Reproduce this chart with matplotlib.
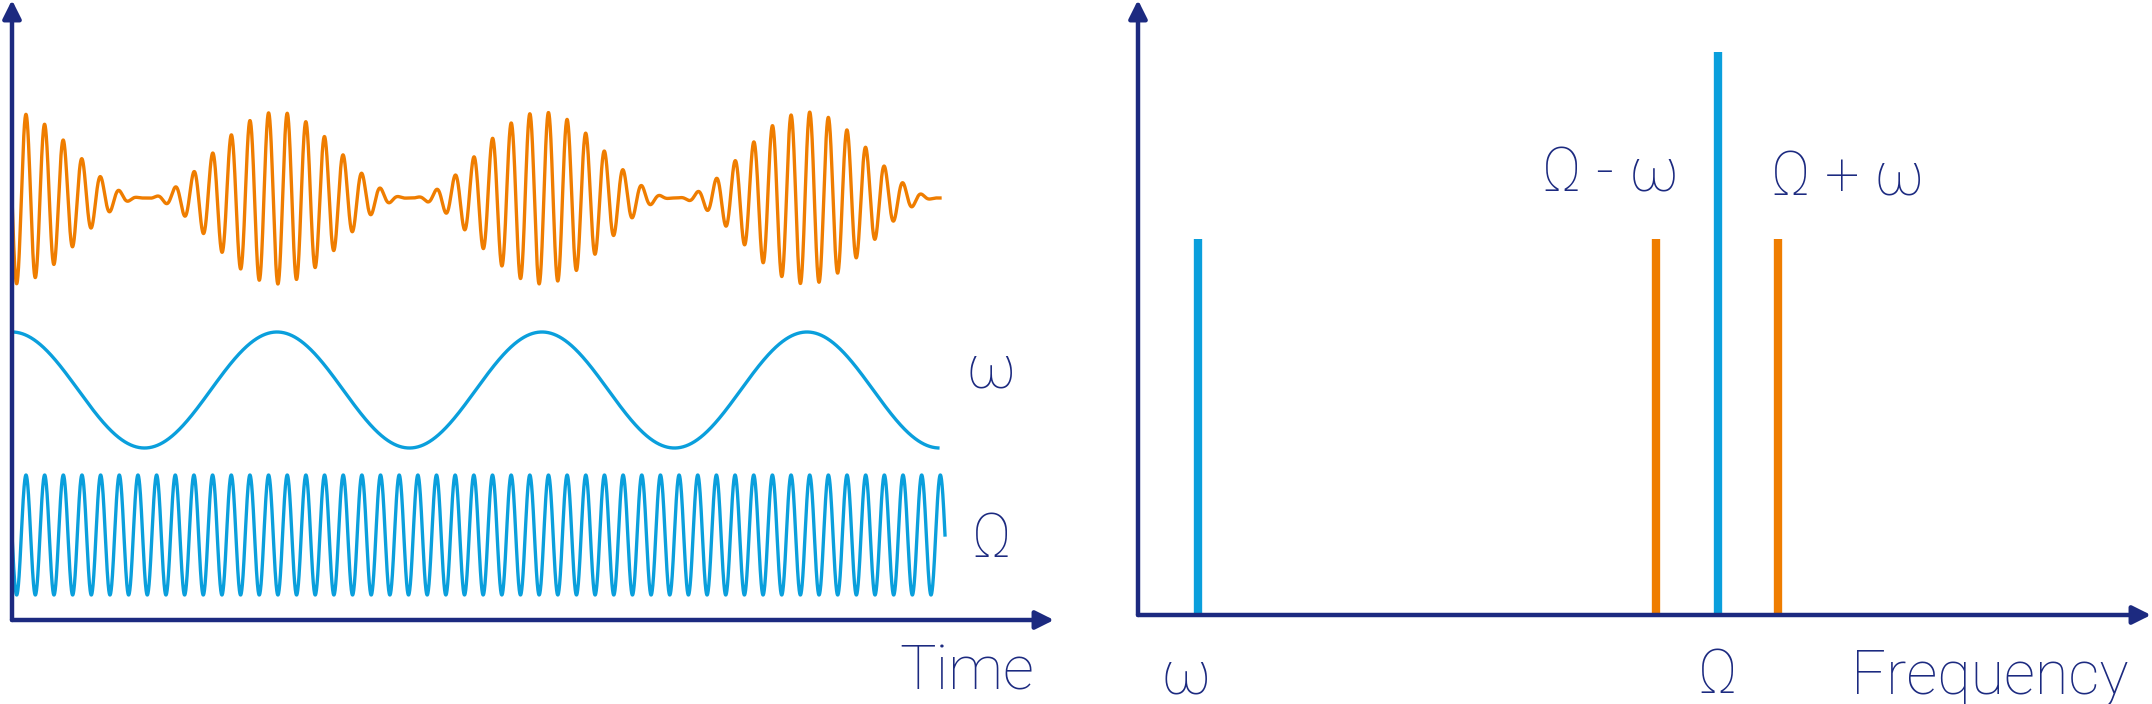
import numpy as np
import matplotlib
matplotlib.use("Agg")
import matplotlib.pyplot as plt

NAVY = "#1c2a80"; ORANGE = "#ef7d00"; BLUE = "#0a9fdc"

# spectrum lines: x position (px), top (px), colour
spec_x = [1198, 1656, 1718, 1778]
spec_top = [239, 239, 52, 239]
spec_col = [BLUE, ORANGE, BLUE, ORANGE]

carrier_cycles = 50.0
mod_period_px = 265.0

fig = plt.figure(figsize=(21.52, 7.04), dpi=100)
ax = fig.add_axes([0, 0, 1, 1])
ax.set_xlim(0, 2152); ax.set_ylim(704, 0); ax.axis("off")

x = np.linspace(12, 945, 8000)
t = (x - 12) / (945 - 12)
car = -np.sin(2*np.pi*carrier_cycles*t)
mod = np.cos(2*np.pi*(x - 12)/mod_period_px)
ax.plot(x, 535 - 60*car, color=BLUE, lw=2.4)
xm = x[x <= 938]
ax.plot(xm, 390 - 58*np.cos(2*np.pi*(xm - 12)/mod_period_px), color=BLUE, lw=2.4)
xo = x[x <= 940]
env = (1 + np.cos(2*np.pi*(xo - 12)/mod_period_px))/2
caro = -np.sin(2*np.pi*carrier_cycles*(xo - 12)/(945 - 12))
ax.plot(xo, 198 - 86*env*caro, color=ORANGE, lw=2.4)

def arrow(x0, y0, x1, y1):
    ax.annotate("", xy=(x1, y1), xytext=(x0, y0),
                arrowprops=dict(arrowstyle="-|>,head_length=1.1,head_width=0.55",
                                color=NAVY, lw=3.2, shrinkA=0, shrinkB=0))
arrow(12, 620, 12, 0); arrow(12, 620, 1054, 620)
arrow(1138, 615, 1138, 0); arrow(1138, 615, 2151, 615)

for xs, top, c in zip(spec_x, spec_top, spec_col):
    ax.plot([xs, xs], [615, top], color=c, lw=6, solid_capstyle="butt")

fam = ["Roboto", "DejaVu Sans"]
kw = dict(color=NAVY, family=fam, fontweight="light", va="center", ha="center")
ax.text(991, 370, "ω", fontsize=44, **kw)
ax.text(991, 540, "Ω", fontsize=44, **kw)
ax.text(967, 672, "Time", fontsize=44, **kw)
ax.text(1186, 676, "ω", fontsize=44, **kw)
ax.text(1717, 676, "Ω", fontsize=44, **kw)
ax.text(1990, 677, "Frequency", fontsize=44, **kw)
ax.text(1611, 175, "Ω - ω", fontsize=44, **kw)
ax.text(1848, 178, "Ω + ω", fontsize=44, **kw)

fig.savefig("out.png", dpi=100)
